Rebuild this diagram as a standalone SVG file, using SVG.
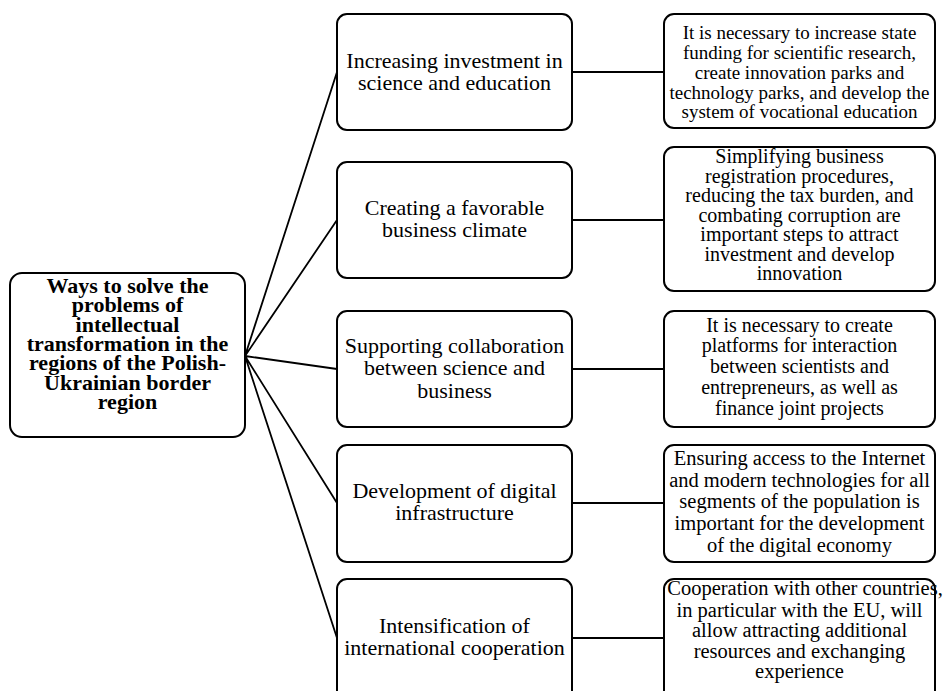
<svg xmlns="http://www.w3.org/2000/svg" width="943" height="691" viewBox="0 0 943 691">
<style>
.box{fill:#fff;stroke:#000;stroke-width:2}
.ln{fill:none;stroke:#000;stroke-width:1.8}
text{font-family:"Liberation Serif","Times New Roman",serif;fill:#000;text-anchor:middle}
.root{font-size:22px;font-weight:bold}
.mid{font-size:22px}
.r{font-size:20px}
</style>
<g id="connectors">
<path class="ln" d="M245 356 L337 72 M245 356 L337 220 M245 356 L337 369 M245 356 L337 503 M245 356 L337 638"/>
<path class="ln" d="M572 72 H664 M572 220 H664 M572 369 H664 M572 503 H664 M572 638 H664"/>
</g>
<g id="root">
<rect class="box" x="10" y="273" width="235" height="164" rx="12"/>
<text class="root" x="127.5" y="293">Ways to solve the</text>
<text class="root" x="127.5" y="312.3">problems of</text>
<text class="root" x="127.5" y="331.6">intellectual</text>
<text class="root" x="127.5" y="350.9">transformation in the</text>
<text class="root" x="127.5" y="370.2">regions of the Polish-</text>
<text class="root" x="127.5" y="389.5">Ukrainian border</text>
<text class="root" x="127.5" y="408.8">region</text>
</g>
<g id="m1">
<rect class="box" x="337" y="14" width="235" height="116" rx="10"/>
<text class="mid" x="454.5" y="68">Increasing investment in</text>
<text class="mid" x="454.5" y="90">science and education</text>
</g>
<g id="m2">
<rect class="box" x="337" y="162" width="235" height="116" rx="10"/>
<text class="mid" x="454.5" y="215">Creating a favorable</text>
<text class="mid" x="454.5" y="237">business climate</text>
</g>
<g id="m3">
<rect class="box" x="337" y="311" width="235" height="116" rx="10"/>
<text class="mid" x="454.5" y="353">Supporting collaboration</text>
<text class="mid" x="454.5" y="375">between science and</text>
<text class="mid" x="454.5" y="398">business</text>
</g>
<g id="m4">
<rect class="box" x="337" y="445" width="235" height="117" rx="10"/>
<text class="mid" x="454.5" y="498">Development of digital</text>
<text class="mid" x="454.5" y="520">infrastructure</text>
</g>
<g id="m5">
<rect class="box" x="337" y="579" width="235" height="125" rx="10"/>
<text class="mid" x="454.5" y="633">Intensification of</text>
<text class="mid" x="454.5" y="655">international cooperation</text>
</g>
<g id="r1">
<rect class="box" x="664" y="14" width="271" height="114" rx="10"/>
<text class="r" style="font-size:19px" x="799.5" y="39">It is necessary to increase state</text>
<text class="r" style="font-size:19px" x="799.5" y="59">funding for scientific research,</text>
<text class="r" style="font-size:19px" x="799.5" y="79">create innovation parks and</text>
<text class="r" style="font-size:19px" x="799.5" y="99">technology parks, and develop the</text>
<text class="r" style="font-size:19px" x="799.5" y="118">system of vocational education</text>
</g>
<g id="r2">
<rect class="box" x="664" y="147" width="271" height="144" rx="10"/>
<text class="r" x="799.5" y="163">Simplifying business</text>
<text class="r" x="799.5" y="183">registration procedures,</text>
<text class="r" x="799.5" y="202">reducing the tax burden, and</text>
<text class="r" x="799.5" y="222">combating corruption are</text>
<text class="r" x="799.5" y="241">important steps to attract</text>
<text class="r" x="799.5" y="261">investment and develop</text>
<text class="r" x="799.5" y="280">innovation</text>
</g>
<g id="r3">
<rect class="box" x="664" y="311" width="271" height="116" rx="10"/>
<text class="r" x="799.5" y="332">It is necessary to create</text>
<text class="r" x="799.5" y="352">platforms for interaction</text>
<text class="r" x="799.5" y="373">between scientists and</text>
<text class="r" x="799.5" y="394">entrepreneurs, as well as</text>
<text class="r" x="799.5" y="415">finance joint projects</text>
</g>
<g id="r4">
<rect class="box" x="664" y="445" width="271" height="117" rx="10"/>
<text class="r" style="font-size:20.5px" x="799.5" y="465">Ensuring access to the Internet</text>
<text class="r" style="font-size:20.5px" x="799.5" y="487">and modern technologies for all</text>
<text class="r" style="font-size:20.5px" x="799.5" y="508">segments of the population is</text>
<text class="r" style="font-size:20.5px" x="799.5" y="530">important for the development</text>
<text class="r" style="font-size:20.5px" x="799.5" y="552">of the digital economy</text>
</g>
<g id="r5">
<rect class="box" x="664" y="579" width="271" height="125" rx="10"/>
<text class="r" style="font-size:20.5px" x="805" y="595">Cooperation with other countries,</text>
<text class="r" style="font-size:20.5px" x="799.5" y="617">in particular with the EU, will</text>
<text class="r" style="font-size:20.5px" x="799.5" y="637">allow attracting additional</text>
<text class="r" style="font-size:20.5px" x="799.5" y="658">resources and exchanging</text>
<text class="r" style="font-size:20.5px" x="799.5" y="678">experience</text>
</g>
</svg>
